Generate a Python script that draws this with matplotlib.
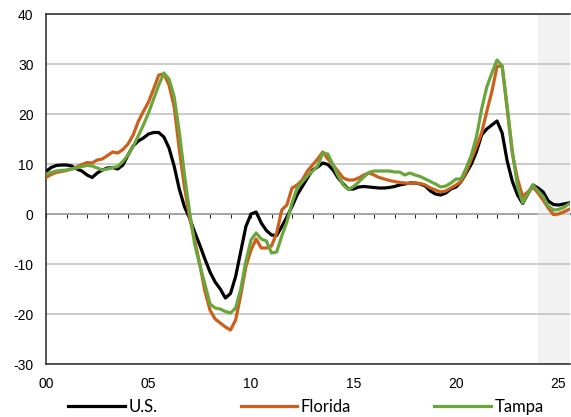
import numpy as np
import matplotlib
matplotlib.use("Agg")
import matplotlib.pyplot as plt

plt.rcParams["font.family"] = ["Liberation Sans", "DejaVu Sans"]
plt.rcParams["axes.unicode_minus"] = False

# year-over-year % change, quarterly from 2000 Q1
us = [8.5, 9.3, 9.7, 9.8,
      9.8, 9.6, 9.0, 8.6,
      7.8, 7.3, 8.2, 8.8,
      9.2, 9.3, 9.0, 9.8,
      11.8, 13.6, 14.6, 15.2,
      16.0, 16.3, 16.3, 15.4,
      13.2, 9.6, 5.0, 1.5,
      -0.8, -3.6, -6.2, -9.0,
      -11.6, -13.6, -15.0, -16.8,
      -15.9, -12.5, -7.5, -2.5,
      0.0, 0.4, -1.8, -3.3,
      -4.2, -4.3, -2.5, -0.6,
      1.5, 3.8, 5.5, 7.2,
      8.8, 9.4, 10.2, 9.9,
      8.8, 7.2, 6.0, 5.0,
      5.0, 5.4, 5.5, 5.4,
      5.3, 5.2, 5.2, 5.3,
      5.5, 5.8, 6.0, 6.2,
      6.2, 6.0, 5.6, 4.6,
      4.0, 3.8, 4.2, 5.0,
      5.4, 6.5, 8.2, 10.0,
      12.5, 15.8, 17.0, 17.8,
      18.6, 16.2, 10.5, 6.5,
      3.8, 2.1, 4.0, 5.8,
      5.2, 4.4, 2.6, 1.9,
      1.8, 2.0, 2.2]

florida = [7.3, 7.9, 8.3, 8.5,
           8.7, 9.0, 9.4, 9.9,
           10.3, 10.2, 10.8, 11.0,
           11.7, 12.4, 12.2, 12.9,
           14.0, 15.8, 18.5, 20.5,
           22.4, 25.0, 27.8, 28.0,
           25.8, 21.5, 13.0, 5.5,
           -0.6, -5.2, -10.0, -15.4,
           -19.2, -21.0, -21.8, -22.6,
           -23.2, -21.2, -16.2, -10.5,
           -7.2, -5.0, -6.8, -6.8,
           -6.4, -3.8, 0.8, 1.8,
           5.2, 5.8, 6.8, 8.6,
           9.8, 11.0, 12.4, 11.0,
           9.8, 8.5, 7.2, 6.8,
           6.8, 7.2, 7.8, 8.2,
           7.8, 7.3, 7.0, 6.7,
           6.5, 6.3, 6.2, 6.1,
           6.2, 6.1, 5.8, 5.2,
           4.8, 4.4, 4.6, 5.2,
           5.8, 6.5, 8.5, 11.0,
           13.5, 16.2, 20.5, 24.5,
           29.5, 29.6, 20.8, 12.0,
           7.0, 3.5, 4.4, 5.4,
           4.2, 2.8, 1.2, -0.1,
           0.0, 0.4, 0.9]

tampa = [8.0, 8.3, 8.6, 8.7,
         8.8, 9.0, 9.2, 9.5,
         9.7, 9.6, 9.2, 8.8,
         9.0, 9.3, 9.5, 10.5,
         11.8, 13.5, 15.6, 17.8,
         20.2, 23.0, 25.8, 28.2,
         27.0, 23.5, 16.5, 8.0,
         0.5, -6.0, -10.2, -14.0,
         -18.0, -18.8, -19.0, -19.5,
         -19.8, -18.8, -15.0, -9.5,
         -5.2, -3.8, -5.0, -5.4,
         -7.8, -7.6, -4.4, -1.6,
         2.2, 5.2, 6.4, 7.6,
         8.6, 9.6, 12.2, 12.0,
         9.8, 7.6, 5.8, 4.9,
         5.5, 6.4, 7.4, 8.3,
         8.6, 8.6, 8.6, 8.6,
         8.4, 8.4, 7.8, 8.2,
         7.8, 7.5, 7.0, 6.5,
         6.0, 5.4, 5.6, 6.2,
         7.0, 7.0, 9.2, 11.8,
         15.5, 21.0, 25.4, 28.2,
         30.8, 29.6, 21.4, 12.5,
         5.5, 2.2, 4.0, 5.8,
         4.6, 3.5, 1.6, 0.8,
         0.9, 1.3, 2.0]

years = np.arange(len(us)) / 4.0   # years since 2000
tick_years = [0, 5, 10, 15, 20, 25]
tick_labels = ["00", "05", "10", "15", "20", "25"]
forecast_start = 24

fig = plt.figure(figsize=(5.71, 4.17), dpi=100)
ax = fig.add_axes([46 / 571, 1 - 364 / 417, 524 / 571, 350 / 417])

ax.axvspan(forecast_start, 26, color="#F2F2F2", lw=0, zorder=0.2)
ax.set_axisbelow(True)
ax.yaxis.grid(True, color="#BFBFBF", lw=1.1)

ax.plot(years, us, color="black", lw=2.3, label="U.S.", zorder=3)
ax.plot(years, florida, color="#CC5F1B", lw=2.3, label="Florida", zorder=4)
ax.plot(years, tampa, color="#6AA63B", lw=2.3, label="Tampa", zorder=5)

ax.set_xlim(0, 25.56)
ax.set_ylim(-30, 40)
ax.set_yticks(range(-30, 41, 10))
ax.set_xticks(tick_years)
ax.set_xticklabels(tick_labels)
ax.tick_params(length=0, pad=9, labelsize=10)

for s in ["left", "bottom", "top"]:
    ax.spines[s].set_color("#262626")
    ax.spines[s].set_linewidth(1.1)
ax.spines["right"].set_visible(False)

# zero line with yearly ticks
zero = ax.secondary_xaxis(3 / 7)
zero.set_xticks(range(0, 26))
zero.tick_params(length=3, width=0.8, color="#262626", labelbottom=False, labeltop=False)
zero.spines["bottom"].set_color("#262626")
zero.spines["bottom"].set_linewidth(1.1)

fig.legend(loc="center", bbox_to_anchor=(0.536, 0.024), ncol=3, frameon=False,
           handlelength=3.4, handletextpad=0.2, columnspacing=5.0,
           prop={"family": "Lato", "size": 12})

fig.savefig("out.png", dpi=100)
